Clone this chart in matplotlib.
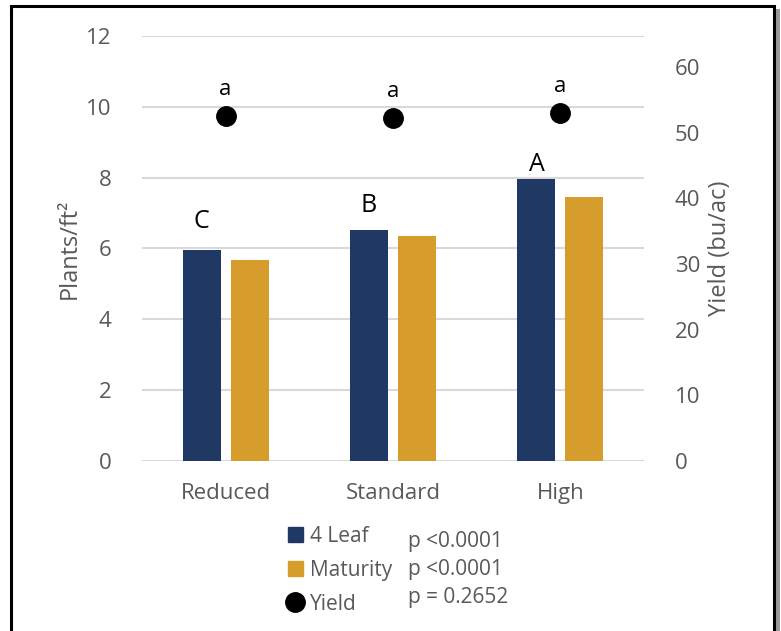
import matplotlib
matplotlib.use("Agg")
import matplotlib.pyplot as plt
import numpy as np
from matplotlib.lines import Line2D
from matplotlib.patches import Patch, Rectangle

plt.rcParams['font.family'] = ['Open Sans', 'DejaVu Sans']

# data
categories = ["Reduced", "Standard", "High"]
leaf4 = [5.96, 6.53, 7.97]
maturity = [5.68, 6.34, 7.46]
yield_bu = [52.5, 52.2, 53.0]
leaf_letters = ["C", "B", "A"]
letter_y = [6.75, 7.2, 8.36]
yield_letters = ["a", "a", "a"]
p_values = ["p <0.0001", "p <0.0001", "p = 0.2652"]

navy = "#203864"
gold = "#D69D2D"
grey = "#595959"

fig = plt.figure(figsize=(7.81, 6.31), dpi=100)
ax = fig.add_axes([0.1818, 0.2694, 0.6428, 0.6736])
ax2 = ax.twinx()

x = np.arange(len(categories))
w = 0.227
off = 0.143
ax.bar(x - off, leaf4, w, color=navy, zorder=3)
ax.bar(x + off, maturity, w, color=gold, zorder=3)

ax.set_xlim(-0.5, 2.5)
ax.set_ylim(0, 12)
ax.set_yticks(range(0, 13, 2))
ax.set_xticks(x)
ax.set_xticklabels(categories)
ax.grid(axis='y', color='#d9d9d9', linewidth=1.5, zorder=0)
ax.set_axisbelow(True)
for s in ax.spines.values():
    s.set_visible(False)
for s in ax2.spines.values():
    s.set_visible(False)
ax.tick_params(length=0, labelsize=16, colors=grey, pad=22)
ax.tick_params(axis='x', pad=16)
ax.set_ylabel("Plants/ft²", fontsize=17, color=grey, labelpad=3)

for xi, v, t, ly in zip(x, leaf4, leaf_letters, letter_y):
    ax.text(xi - off, ly, t, ha='center', va='center', fontsize=18, color='black')

# yield on right axis
ax2.plot(x, yield_bu, 'o', color='black', markersize=14, zorder=4)
ax2.set_ylim(0, 64.7)
ax2.set_yticks(range(0, 61, 10))
ax2.tick_params(length=0, labelsize=16, colors=grey, pad=22)
ax2.set_ylabel("Yield (bu/ac)", fontsize=17, color=grey, labelpad=6)
for xi, v, t in zip(x, yield_bu, yield_letters):
    ax2.annotate(t, (xi, v), xytext=(0, 19), textcoords='offset points',
                 ha='center', va='center', fontsize=16, color='black')

# legend
handles = [Patch(color=navy), Patch(color=gold),
           Line2D([], [], marker='o', color='black', linestyle='none', markersize=14)]
leg = fig.legend(handles, ["4 Leaf", "Maturity", "Yield"], loc='upper left',
                 bbox_to_anchor=(0.355, 0.183), frameon=False, fontsize=15,
                 handlelength=0.75, handleheight=0.75, handletextpad=0.3,
                 labelspacing=0.62, borderpad=0)
for t in leg.get_texts():
    t.set_color(grey)

p_y = [542, 570, 598]
for py, pv in zip(p_y, p_values):
    fig.text(408 / 781, 1 - py / 631, pv, fontsize=15, color=grey, va='center')

# frame around the figure, with a soft shadow on the right
fig.add_artist(Rectangle((775 / 781, -0.05), 5 / 781, 1 - 9 / 631 + 0.05,
                         transform=fig.transFigure, facecolor='#9a9a9a',
                         edgecolor='none'))
fig.add_artist(Rectangle((11 / 781, -0.05), 763 / 781, 1 - 6 / 631 + 0.05,
                         transform=fig.transFigure, fill=False,
                         edgecolor='black', linewidth=2.2))

fig.savefig("out.png", dpi=100)
